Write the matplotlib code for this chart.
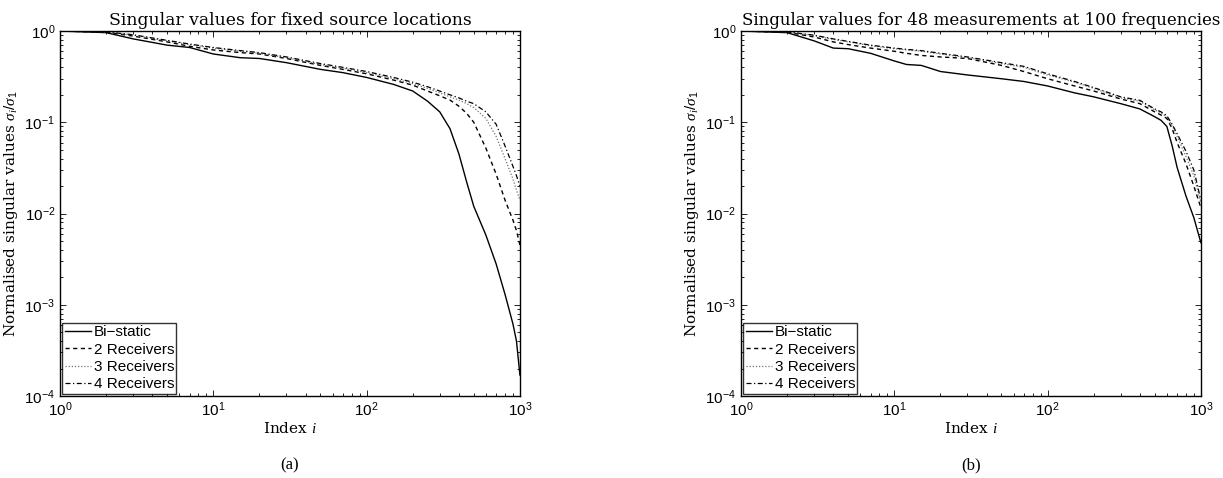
import numpy as np
import matplotlib
matplotlib.use('Agg')
import matplotlib.pyplot as plt

# shared settings
plt.rcParams['font.family'] = ['Liberation Sans', 'DejaVu Sans']
plt.rcParams['mathtext.fontset'] = 'custom'
plt.rcParams['mathtext.rm'] = 'Liberation Sans'
plt.rcParams['mathtext.it'] = 'Liberation Serif:italic'
plt.rcParams['mathtext.default'] = 'it'

labels = ['Bi\u2212static', '2 Receivers', '3 Receivers', '4 Receivers']

# (a) fixed source locations
idx_a = [1, 2, 3, 5, 7, 10, 15, 20, 30, 50, 70, 100, 150, 200, 250, 300, 350,
         400, 450, 500, 600, 700, 800, 900, 950, 1000]
bi_a = [1.0, 0.96, 0.82, 0.70, 0.66, 0.56, 0.51, 0.50, 0.45, 0.38, 0.35, 0.31, 0.26,
        0.22, 0.17, 0.13, 0.085, 0.045, 0.022, 0.012, 0.0058, 0.0028, 0.0013,
        0.00062, 0.0004, 0.00017]
rx2_a = [1.0, 0.97, 0.88, 0.76, 0.68, 0.62, 0.58, 0.56, 0.50, 0.42, 0.38, 0.34, 0.29,
         0.255, 0.22, 0.195, 0.175, 0.15, 0.125, 0.1, 0.052, 0.027, 0.014,
         0.0085, 0.0065, 0.0045]
rx3_a = [1.0, 0.98, 0.90, 0.78, 0.71, 0.65, 0.60, 0.57, 0.51, 0.43, 0.39, 0.35, 0.30,
         0.265, 0.235, 0.21, 0.19, 0.175, 0.16, 0.145, 0.11, 0.07, 0.04,
         0.024, 0.018, 0.014]
rx4_a = [1.0, 0.98, 0.91, 0.79, 0.72, 0.66, 0.61, 0.58, 0.52, 0.44, 0.40, 0.36, 0.31,
         0.275, 0.245, 0.22, 0.20, 0.185, 0.17, 0.16, 0.13, 0.095, 0.055,
         0.033, 0.026, 0.02]

# (b) 48 measurements at 100 frequencies
idx_b = [1, 2, 3, 4, 5, 7, 10, 12, 15, 20, 30, 50, 70, 100, 150, 200, 300, 400,
         500, 550, 600, 650, 700, 800, 900, 1000]
bi_b = [1.0, 0.96, 0.78, 0.65, 0.64, 0.57, 0.47, 0.43, 0.42, 0.36, 0.33, 0.30, 0.28,
        0.25, 0.21, 0.19, 0.16, 0.14, 0.115, 0.105, 0.09, 0.055, 0.032, 0.0155,
        0.009, 0.0048]
rx2_b = [1.0, 0.97, 0.86, 0.76, 0.71, 0.65, 0.60, 0.57, 0.54, 0.52, 0.50, 0.42, 0.36,
         0.30, 0.25, 0.22, 0.18, 0.16, 0.13, 0.12, 0.11, 0.085, 0.06, 0.035,
         0.02, 0.0116]
rx3_b = [1.0, 0.98, 0.89, 0.81, 0.76, 0.69, 0.64, 0.62, 0.60, 0.56, 0.51, 0.44, 0.40,
         0.33, 0.275, 0.235, 0.185, 0.17, 0.137, 0.126, 0.114, 0.092, 0.07,
         0.042, 0.026, 0.013]
rx4_b = [1.0, 0.98, 0.90, 0.82, 0.77, 0.70, 0.65, 0.63, 0.61, 0.57, 0.52, 0.45, 0.41,
         0.34, 0.28, 0.24, 0.19, 0.174, 0.14, 0.13, 0.118, 0.095, 0.075, 0.048,
         0.03, 0.014]

titles = ['Singular values for fixed source locations',
          'Singular values for 48 measurements at 100 frequencies']
captions = ['(a)', '(b)']

fig = plt.figure(figsize=(12.23, 4.78), dpi=100)
ax1 = fig.add_axes([0.0491, 0.1715, 0.376, 0.7636])
ax2 = fig.add_axes([0.6059, 0.1715, 0.376, 0.7636])

styles = [dict(color='black', lw=1.0, ls='-'),
          dict(color='black', lw=1.0, ls=(0, (3, 2.5))),
          dict(color='0.45', lw=0.9, ls=(0, (1, 1.5))),
          dict(color='black', lw=0.9, ls=(0, (4, 2, 1, 2)))]

panels = [(ax1, idx_a, [bi_a, rx2_a, rx3_a, rx4_a]),
          (ax2, idx_b, [bi_b, rx2_b, rx3_b, rx4_b])]

# title placement (the right one sits a bit right of centre)
title_x = [0.5, 0.522]
title_size = [12.4, 12.0]

for k, (ax, idx, series) in enumerate(panels):
    for vals, st, lab in zip(series, styles, labels):
        ax.loglog(idx, vals, label=lab, **st)
    ax.set_xlim(1, 1000)
    ax.set_ylim(1e-4, 1)
    ax.tick_params(which='both', direction='in', top=True, right=True,
                   labelsize=11, width=0.6)
    ax.tick_params(which='major', length=4)
    ax.tick_params(which='minor', length=2)
    for sp in ax.spines.values():
        sp.set_linewidth(1.0)
    ax.set_title(titles[k], family='DejaVu Serif', fontsize=title_size[k],
                 pad=4, x=title_x[k])
    ax.set_xlabel('Index $i$', family='DejaVu Serif', fontsize=11, labelpad=1)
    ax.set_ylabel('Normalised singular values $\\sigma_i/\\sigma_1$',
                  family='DejaVu Serif', fontsize=11, labelpad=3)
    leg = ax.legend(loc='lower left', fontsize=11, frameon=True, fancybox=False,
                    edgecolor='black', borderaxespad=0.15, borderpad=0.15,
                    handlelength=1.7, handletextpad=0.2, labelspacing=0.22)
    leg.get_frame().set_linewidth(1.0)
    ax.text(0.5, -0.19, captions[k], transform=ax.transAxes, ha='center',
            va='center', family='Liberation Serif', fontsize=12)

fig.savefig('out.png', dpi=100)
